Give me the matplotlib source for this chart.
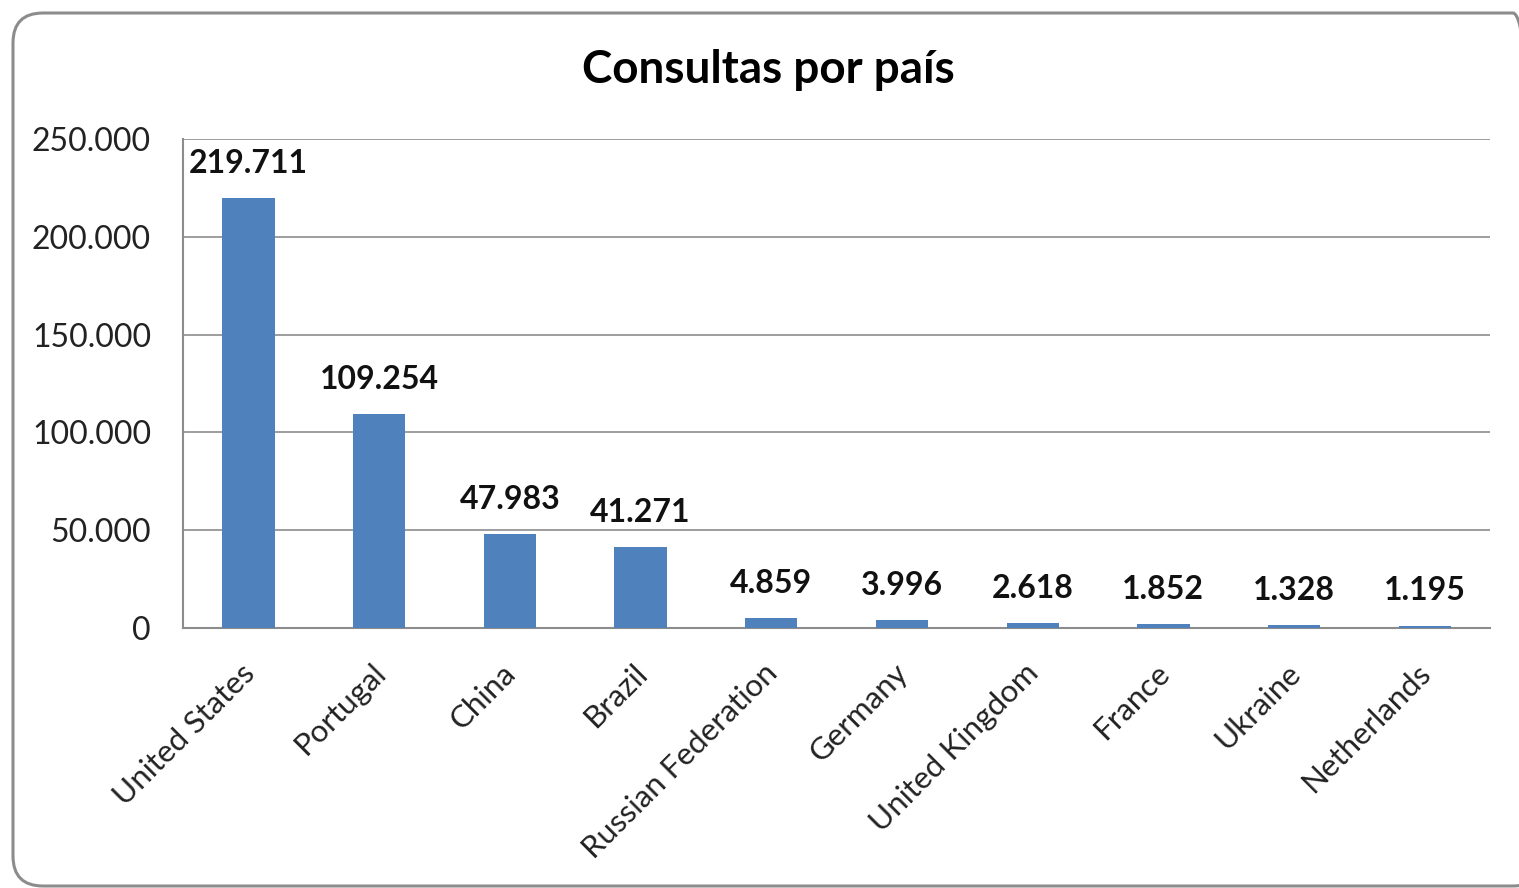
import matplotlib
matplotlib.use("Agg")
import matplotlib.pyplot as plt
from matplotlib.patches import FancyBboxPatch
from matplotlib.transforms import IdentityTransform, ScaledTranslation
from matplotlib.ticker import FuncFormatter

countries = ["United States", "Portugal", "China", "Brazil", "Russian Federation",
             "Germany", "United Kingdom", "France", "Ukraine", "Netherlands"]
consultas = [219711, 109254, 47983, 41271, 4859, 3996, 2618, 1852, 1328, 1195]
yticks = [0, 50000, 100000, 150000, 200000, 250000]


def dots(v):
    return f"{int(v):,}".replace(",", ".")


plt.rcParams["font.family"] = ["Lato", "DejaVu Sans"]

fig = plt.figure(figsize=(15.19, 8.88), dpi=100)
ax = fig.add_axes([0.1205, 0.2928, 0.8605, 0.5507])

# rounded chart frame, in pixels
fig.patches.append(FancyBboxPatch((13, 2), 1530, 873, boxstyle="round,pad=0,rounding_size=30",
                                  transform=IdentityTransform(), fill=False,
                                  edgecolor="#8c8c8c", linewidth=2.2, figure=fig))

x = range(len(countries))
ax.bar(x, consultas, width=0.4, color="#4F81BD", zorder=3)
for i, v in enumerate(consultas):
    ax.annotate(dots(v), (i, v), xytext=(0, 25), textcoords="offset points",
                ha="center", va="center", fontsize=23, fontweight="bold", color="#111111")

ax.set_xlim(-0.5, len(countries) - 0.5)
ax.set_ylim(0, 250000)
ax.set_yticks(yticks)
ax.yaxis.set_major_formatter(FuncFormatter(lambda v, p: dots(v)))
ax.set_xticks(list(x))
ax.set_xticklabels(countries, rotation=45, ha="right", rotation_mode="anchor", fontsize=22.5)
ax.tick_params(length=0, colors="#222222")
ax.tick_params(axis="y", pad=23, labelsize=23)
ax.tick_params(axis="x", pad=22)
shift = ScaledTranslation(-6 / 72, 0, fig.dpi_scale_trans)
for lab in ax.get_xticklabels():
    lab.set_transform(lab.get_transform() + shift)
ax.grid(axis="y", color="#8c8c8c", linewidth=1.2, zorder=0)
for s in ["top", "right"]:
    ax.spines[s].set_visible(False)
for s in ["left", "bottom"]:
    ax.spines[s].set_color("#8c8c8c")
    ax.spines[s].set_linewidth(1.5)

fig.text(0.506, 0.921, "Consultas por país", ha="center", va="center",
         fontsize=33, fontweight="bold", color="#000000")

fig.savefig("out.png", dpi=100)
